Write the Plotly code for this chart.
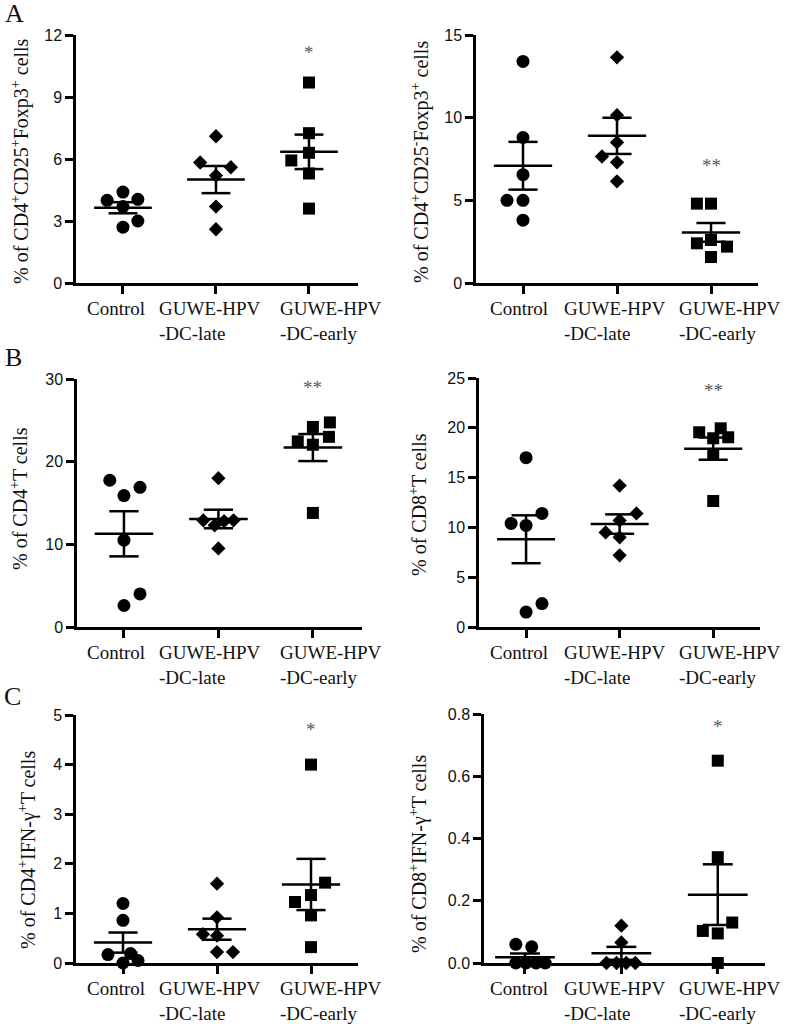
import numpy as np
import plotly.graph_objects as go

# ---------------- data ----------------
group_labels = ["Control", "GUWE-HPV<br>-DC-late", "GUWE-HPV<br>-DC-early"]

# A left: % of CD4+CD25+Foxp3+ cells
a1_control = [4.4, 4.0, 4.05, 3.7, 3.0, 2.7]
a1_late = [7.1, 5.83, 5.6, 5.2, 3.7, 2.6]
a1_early = [9.7, 7.25, 6.3, 5.93, 5.3, 3.6]

# A right: % of CD4+CD25-Foxp3+ cells
a2_control = [13.4, 8.8, 6.55, 5.0, 5.0, 3.8]
a2_late = [13.65, 10.15, 8.5, 7.65, 7.3, 6.15]
a2_early = [4.8, 4.8, 2.6, 2.4, 2.2, 1.57]

# B left: % of CD4+ T cells
b1_control = [17.75, 15.9, 16.9, 10.5, 4.0, 2.6]
b1_late = [18.0, 12.9, 12.3, 12.9, 12.8, 9.5]
b1_early = [24.75, 24.2, 23.0, 22.45, 22.05, 13.8]

# B right: % of CD8+ T cells
b2_control = [17.0, 11.4, 10.4, 10.2, 2.35, 1.5]
b2_late = [14.2, 11.4, 10.7, 9.5, 9.0, 7.2]
b2_early = [19.55, 19.95, 19.05, 18.95, 17.3, 12.65]

# C left: % of CD4+IFN-g+ T cells
c1_control = [1.2, 0.86, 0.17, 0.19, 0.0, 0.05]
c1_late = [1.6, 0.92, 0.58, 0.55, 0.22, 0.22]
c1_early = [4.0, 1.62, 1.23, 1.37, 0.96, 0.32]

# C right: % of CD8+IFN-g+ T cells
c2_control = [0.06, 0.052, 0.0, 0.0, 0.0, 0.0]
c2_late = [0.12, 0.066, 0.0, 0.0, 0.0, 0.0]
c2_early = [0.65, 0.34, 0.13, 0.103, 0.095, 0.0]

# significance labels and y tick values
sig_labels = ["*", "**", "**", "**", "*", "*"]
sig_y = [11.3, 7.3, 29.3, 24.0, 4.76, 0.768]
yticks_a1 = [0, 3, 6, 9, 12]
yticks_a2 = [0, 5, 10, 15]
yticks_b1 = [0, 10, 20, 30]
yticks_b2 = [0, 5, 10, 15, 20, 25]
yticks_c1 = [0, 1, 2, 3, 4, 5]
yticks_c2 = [0.0, 0.2, 0.4, 0.6, 0.8]

# ---------------- layout helpers (horizontal scatter of dots) ----------------
jit_a1 = [[0, -0.17, 0.16, 0, 0.16, 0], [0, -0.17, 0.16, 0, 0, 0], [0, 0, 0, -0.19, 0, 0]]
jit_a2 = [[0, 0, 0, -0.17, 0, 0], [0, 0, 0, -0.16, 0, 0], [-0.15, 0, 0, -0.15, 0.17, 0]]
jit_b1 = [[-0.15, 0, 0.17, 0, 0.17, 0], [0, -0.16, -0.04, 0.16, 0.06, 0], [0.18, 0, 0.17, -0.16, 0, 0]]
jit_b2 = [[0, 0.17, -0.16, 0, 0.17, 0], [0, 0.18, 0, -0.15, 0, 0], [-0.15, 0.08, 0.16, 0, 0, 0]]
jit_c1 = [[0, 0, -0.16, 0.08, 0, 0.16], [0, 0, -0.15, 0, 0, 0.17], [0, 0.15, -0.17, 0, 0, 0]]
jit_c2 = [[-0.095, 0.07, -0.095, 0.01, 0.115, 0.21], [0, 0, -0.155, -0.05, 0.05, 0.145],
          [0, 0, 0.15, -0.155, 0, 0]]

W, H = 787, 1024


def fx(px):
    return px / W


def fy(py):
    return 1 - py / H


panels = [
    dict(vals=[a1_control, a1_late, a1_early], jit=jit_a1, ymax=12, yt=yticks_a1, fmt="",
         title="% of CD4<sup>+</sup>CD25<sup>+</sup>Foxp3<sup>+</sup> cells",
         px=(76, 358), py=(35, 283), xr=(-0.505, 2.527), tpos=(20, 161), col=0),
    dict(vals=[a2_control, a2_late, a2_early], jit=jit_a2, ymax=15, yt=yticks_a2, fmt="",
         title="% of CD4<sup>+</sup>CD25<sup>-</sup>Foxp3<sup>+</sup> cells",
         px=(476, 758), py=(35, 283), xr=(-0.5, 2.5), tpos=(420, 162), col=1),
    dict(vals=[b1_control, b1_late, b1_early], jit=jit_b1, ymax=30, yt=yticks_b1, fmt="",
         title="% of CD4<sup>+</sup>T cells",
         px=(77, 362), py=(379, 627), xr=(-0.497, 2.52), tpos=(19, 499), col=0),
    dict(vals=[b2_control, b2_late, b2_early], jit=jit_b2, ymax=25, yt=yticks_b2, fmt="",
         title="% of CD8<sup>+</sup>T cells",
         px=(479, 760), py=(378, 627), xr=(-0.503, 2.50), tpos=(418, 504), col=1),
    dict(vals=[c1_control, c1_late, c1_early], jit=jit_c1, ymax=5, yt=yticks_c1, fmt="",
         title="% of CD4<sup>+</sup>IFN-γ<sup>+</sup>T cells",
         px=(76, 358), py=(715, 963), xr=(-0.5, 2.5), tpos=(27, 850), col=0),
    dict(vals=[c2_control, c2_late, c2_early], jit=jit_c2, ymax=0.8, yt=yticks_c2, fmt=".1f",
         title="% of CD8<sup>+</sup>IFN-γ<sup>+</sup>T cells",
         px=(484, 765), py=(714, 963), xr=(-0.425, 2.49), tpos=(418, 854), col=1),
]

symbols = ["circle", "diamond", "square"]
msizes = [13, 11, 12]
label_left_px = [[85, 157, 278], [488, 562, 677]]

fig = go.Figure()
annotations = []
layout_axes = {}
serif = "Liberation Serif, Times New Roman, serif"
sans = "Liberation Sans, Arial, sans-serif"

for k, p in enumerate(panels):
    n = k + 1
    xa = "x" if n == 1 else f"x{n}"
    ya = "y" if n == 1 else f"y{n}"
    for g, vals in enumerate(p["vals"]):
        v = np.array(vals, dtype=float)
        xs = g + np.array(p["jit"][g])
        fig.add_trace(go.Scatter(
            x=xs, y=v, mode="markers", xaxis=xa, yaxis=ya, cliponaxis=False,
            marker=dict(symbol=symbols[g], size=msizes[g], color="black", line=dict(width=0)),
            showlegend=False, hoverinfo="y"))
        m = v.mean()
        s = v.std(ddof=1) / np.sqrt(len(v))
        hw, cw = 0.31, 0.155
        fig.add_trace(go.Scatter(
            x=[g - hw, g + hw], y=[m, m], mode="lines", xaxis=xa, yaxis=ya,
            line=dict(color="black", width=2.5), showlegend=False, hoverinfo="skip",
            cliponaxis=False))
        fig.add_trace(go.Scatter(
            x=[g, g, None, g - cw, g + cw, None, g - cw, g + cw],
            y=[m - s, m + s, None, m + s, m + s, None, m - s, m - s],
            mode="lines", xaxis=xa, yaxis=ya, line=dict(color="black", width=2.5),
            showlegend=False, hoverinfo="skip", cliponaxis=False))

    x0, x1 = p["px"]
    y0, y1 = p["py"]
    layout_axes["xaxis" if n == 1 else f"xaxis{n}"] = dict(
        domain=[fx(x0), fx(x1)], anchor=ya, range=list(p["xr"]),
        showline=True, linecolor="black", linewidth=2.5,
        ticks="outside", ticklen=8, tickwidth=2.5, tickcolor="black",
        tickvals=[0, 1, 2], showticklabels=False, showgrid=False, zeroline=False)
    layout_axes["yaxis" if n == 1 else f"yaxis{n}"] = dict(
        domain=[fy(y1), fy(y0)], anchor=xa, range=[0, p["ymax"]],
        showline=True, linecolor="black", linewidth=2.5,
        ticks="outside", ticklen=8, tickwidth=2.5, tickcolor="black",
        tickvals=p["yt"], tickformat=p["fmt"],
        tickfont=dict(family=sans, size=16, color="#111"),
        showgrid=False, zeroline=False)

    # y-axis title
    annotations.append(dict(
        text=p["title"], x=fx(p["tpos"][0]), y=fy(p["tpos"][1]), xref="paper", yref="paper",
        textangle=-90, showarrow=False, xanchor="center", yanchor="middle",
        font=dict(family=serif, size=20, color="#111")))
    # category labels
    for g, lab in enumerate(group_labels):
        annotations.append(dict(
            text=lab, x=fx(label_left_px[p["col"]][g]), y=fy(y1 + 13),
            xref="paper", yref="paper", showarrow=False, xanchor="left", yanchor="top",
            align="left", font=dict(family=serif, size=19, color="#111")))
    # significance star
    annotations.append(dict(
        text=sig_labels[k], x=2, y=sig_y[k], xref=xa, yref=ya, showarrow=False,
        xanchor="center", yanchor="middle", yshift=-3,
        font=dict(family=serif, size=19, color="#555")))

for letter, (lx, ly) in zip(["A", "B", "C"], [(14, 13), (13, 357), (12, 696)]):
    annotations.append(dict(
        text=letter, x=fx(lx), y=fy(ly), xref="paper", yref="paper", showarrow=False,
        xanchor="center", yanchor="middle", font=dict(family=serif, size=26, color="#111")))

fig.update_layout(
    width=W, height=H, margin=dict(l=0, r=0, t=0, b=0, autoexpand=False),
    paper_bgcolor="white", plot_bgcolor="white",
    annotations=annotations, showlegend=False, **layout_axes)

# remove the browser's default 8px page margin so the figure fills the window exactly
fig.write_html("out.html", config={"displayModeBar": False},
               post_script="document.body.style.margin='0px';")
